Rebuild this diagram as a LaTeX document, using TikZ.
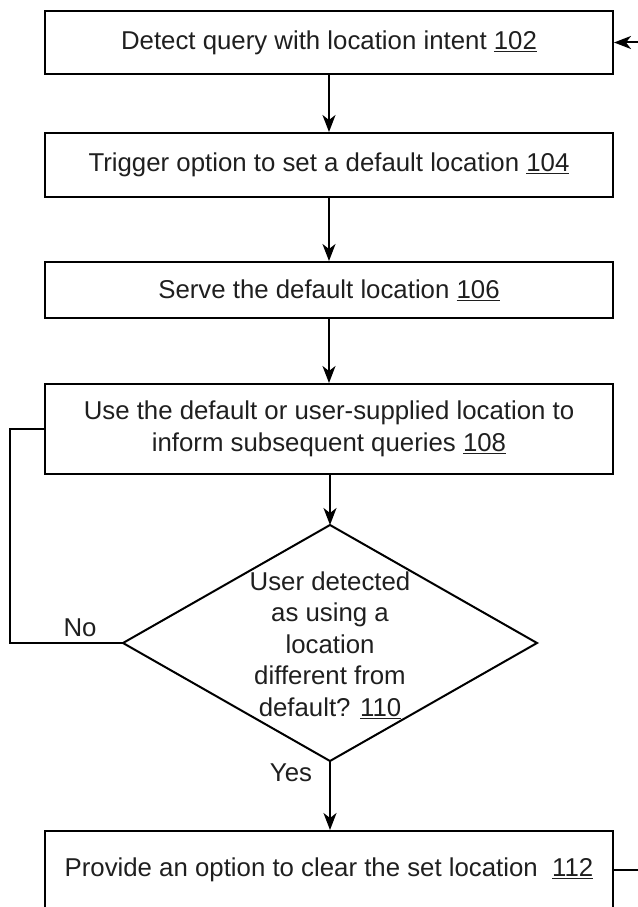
\documentclass[tikz,border=0pt]{standalone}
\usepackage{fontspec}
\setmainfont{Liberation Sans}
\usetikzlibrary{arrows.meta}
\newcommand\refnum[1]{\underline{#1}}
\begin{document}
\begin{tikzpicture}[x=1pt,y=-1pt,
  every node/.style={font=\fontsize{25.8}{31.5}\selectfont, text=black!88},
  stepbox/.style={draw, line width=2pt, rectangle, minimum width=568pt, inner sep=0pt, align=center},
  link/.style={line width=2pt},
  arrowlink/.style={line width=2pt, -{Stealth[length=17pt,width=13pt,inset=5pt]}}]
\useasboundingbox (0,0) rectangle (637,907);
\node[stepbox, minimum height=63pt] (b1) at (329,42.5) {Detect query with location intent \refnum{102}};
\node[stepbox, minimum height=64pt] (b2) at (329,165) {Trigger option to set a default location \refnum{104}};
\node[stepbox, minimum height=56pt] (b3) at (329,290) {Serve the default location \refnum{106}};
\node[stepbox, minimum height=90pt] (b4) at (329,429) {Use the default or user-supplied location to\\inform subsequent queries \refnum{108}};
\node[stepbox, minimum height=78pt] (b5) at (329,870) {Provide an option to clear the set location\ \ \refnum{112}};
\coordinate (dt) at (330,525);
\coordinate (dl) at (123,643);
\coordinate (dr) at (537,643);
\coordinate (db) at (330,761);
\draw[link] (dt) -- (dr) -- (db) -- (dl) -- cycle;
\node[align=center, inner sep=0pt] (dtext) at (330,645) {User detected\\as using a\\location\\different from\\default? \refnum{110}};
\coordinate (nl) at (10,643);
\coordinate (rt) at (640,42.5);
\coordinate (rb) at (640,870);
\node (no) at (80,628) {No};
\node (yes) at (291,773) {Yes};
\draw[arrowlink] (b1) -- (b2);
\draw[arrowlink] (b2) -- (b3);
\draw[arrowlink] (b3) -- (b4);
\draw[arrowlink] (b4.south -| dt) -- (dt);
\draw[arrowlink] (db) -- (b5.north -| db);
\draw[link] (b4.west) -| (nl) -- (dl);
\draw[arrowlink] (rt) -- (b1.east);
\draw[link] (b5.east) -- (rb);
\end{tikzpicture}
\end{document}
